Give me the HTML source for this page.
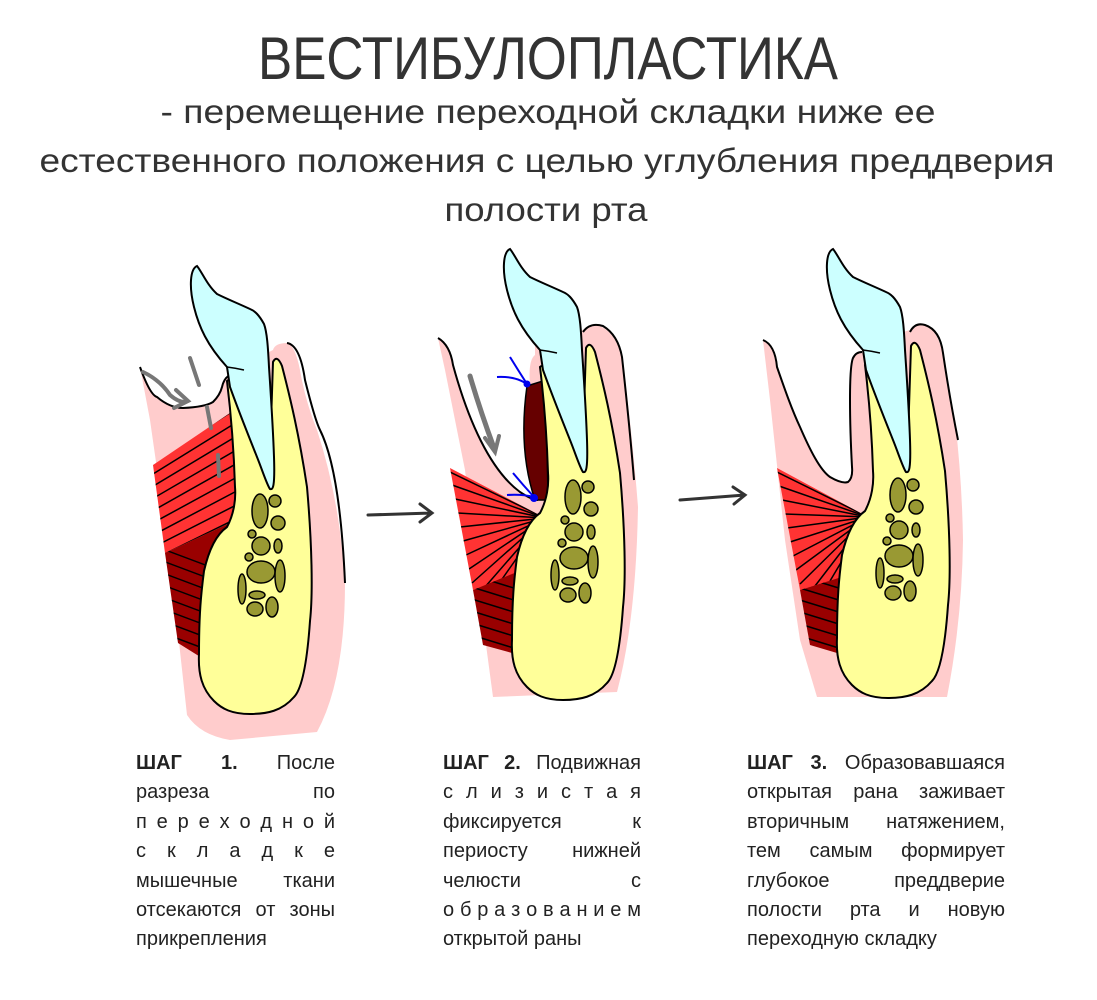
<!DOCTYPE html>
<html><head><meta charset="utf-8"><style>
html,body{margin:0;padding:0;background:#fff;}
body{width:1097px;height:1000px;position:relative;overflow:hidden;font-family:"Liberation Sans",sans-serif;}
svg{position:absolute;left:0;top:0;}
.col{position:absolute;top:749px;font-family:"Liberation Sans",sans-serif;font-size:20px;line-height:29.4px;color:#222;}
.col div{text-align:justify;text-align-last:justify;white-space:nowrap;}
.col div.n{text-align-last:left;}
b{font-weight:bold;}
</style></head><body>
<svg width="1097" height="1000" viewBox="0 0 1097 1000">
<defs>
<g id="bone">
<path d="M540,367 Q545,362 550,380 L582,470 L586,348 Q590,340 595,352 C603,383 612,420 620,473 C625,530 626,580 623,607 C620,650 615,675 607,683 C595,697 580,700 563,700 C545,700 535,695 527,687 C515,675 511,660 512,640 C512,600 514,580 517,557 C522,535 530,520 540,513 C547,500 549,485 548,473 C547,440 544,400 540,367 Z" fill="#ffff99" stroke="#000" stroke-width="2"/>
<g fill="#999933" stroke="#000" stroke-width="1.5">
<ellipse cx="573" cy="497" rx="8" ry="17"/><circle cx="588" cy="487" r="6"/><ellipse cx="591" cy="509" rx="7" ry="7"/>
<circle cx="565" cy="520" r="4"/><ellipse cx="574" cy="532" rx="9" ry="9"/><ellipse cx="591" cy="532" rx="4" ry="7"/>
<circle cx="562" cy="543" r="4"/><ellipse cx="574" cy="558" rx="14" ry="11"/><ellipse cx="593" cy="562" rx="5" ry="16"/>
<ellipse cx="555" cy="575" rx="4" ry="15"/><ellipse cx="570" cy="581" rx="8" ry="4"/><ellipse cx="568" cy="595" rx="8" ry="7"/><ellipse cx="585" cy="593" rx="6" ry="10"/>
</g>
</g>
<g id="tooth">
<path d="M510,249 C503,252 502,270 507,290 C512,310 520,328 540,350 L543,370 C552,395 562,420 570,440 C576,455 580,468 583,472 C586,473 588,470 587,440 C586,410 584,380 582,350 C581,330 580,315 577,307 C572,298 568,294 563,292 C550,286 540,282 530,277 C520,268 515,255 510,249 Z" fill="#ccffff" stroke="#000" stroke-width="2"/>
<path d="M540,350 Q548,351 557,353" fill="none" stroke="#000" stroke-width="1.5"/>
</g>
<clipPath id="r1"><path d="M153,465 L230,413 L238,437 L237,507 L230,523 L165,553 Z"/></clipPath>
<clipPath id="d1"><path d="M165,553 L230,523 L220,567 L202,658 L178,643 Z"/></clipPath>
<clipPath id="r2"><path d="M450,468 L545,518 L517,573 L473,590 Z"/></clipPath>
<clipPath id="d2"><path d="M473,590 L517,572 L512,653 L483,645 Z"/></clipPath>
<clipPath id="r3"><path d="M777,468 L868,517 L843,577 L800,590 Z"/></clipPath>
<clipPath id="d3"><path d="M800,590 L845,576 L837,653 L810,645 Z"/></clipPath>
</defs>

<text x="548" y="79" font-size="60" fill="#333" text-anchor="middle" textLength="580" lengthAdjust="spacingAndGlyphs">ВЕСТИБУЛОПЛАСТИКА</text>
<text x="548" y="123" font-size="33" fill="#333" text-anchor="middle" textLength="775" lengthAdjust="spacingAndGlyphs">- перемещение переходной складки ниже ее</text>
<text x="547" y="172" font-size="33" fill="#333" text-anchor="middle" textLength="1015" lengthAdjust="spacingAndGlyphs">естественного положения с целью углубления преддверия</text>
<text x="546" y="221" font-size="33" fill="#333" text-anchor="middle" textLength="203" lengthAdjust="spacingAndGlyphs">полости рта</text>

<path d="M140,367 L150,420 L170,560 L187,715 Q200,735 230,740 L317,732 Q345,680 345,583 Q340,500 317,430 Q305,400 300,370 Q295,345 287,343 Q275,343 273,350 L230,372 L140,340 Z" fill="#ffcccc"/>
<path d="M287,343 Q300,345 305,380 Q315,420 320,430 Q340,470 345,583" fill="none" stroke="#000" stroke-width="2"/>
<path d="M140,367 Q150,395 157,397 Q170,408 183,408 Q205,407 213,402 Q220,395 222,387 Q224,378 230,375 L235,330 L140,330 Z" fill="#fff"/>
<path d="M140,367 Q150,395 157,397 Q170,408 183,408 Q205,407 213,402 Q220,395 222,387 Q224,378 230,375" fill="none" stroke="#000" stroke-width="2"/>
<path d="M153,465 L230,413 L238,437 L237,507 L230,523 L165,553 Z" fill="#ff3333"/>
<g clip-path="url(#r1)" stroke="#000" stroke-width="1.5">
<line x1="140" y1="470" x2="250" y2="400"/><line x1="140" y1="482" x2="250" y2="414"/><line x1="140" y1="494" x2="250" y2="428"/><line x1="140" y1="506" x2="250" y2="442"/><line x1="140" y1="518" x2="250" y2="456"/><line x1="140" y1="530" x2="250" y2="470"/><line x1="140" y1="542" x2="250" y2="484"/><line x1="140" y1="554" x2="250" y2="498"/><line x1="140" y1="566" x2="250" y2="512"/><line x1="140" y1="578" x2="250" y2="526"/>
</g>
<path d="M165,553 L230,523 L220,567 L202,658 L178,643 Z" fill="#990000"/>
<g clip-path="url(#d1)" stroke="#000" stroke-width="1.5">
<line x1="160" y1="560" x2="240" y2="590"/><line x1="160" y1="572" x2="240" y2="602"/><line x1="160" y1="584" x2="240" y2="614"/><line x1="160" y1="596" x2="240" y2="626"/><line x1="160" y1="608" x2="240" y2="638"/><line x1="160" y1="620" x2="240" y2="650"/><line x1="160" y1="632" x2="240" y2="662"/><line x1="160" y1="548" x2="240" y2="578"/>
</g>
<use href="#bone" transform="translate(-313,14)"/>
<use href="#tooth" transform="translate(-313,17)"/>
<path d="M143,372 Q160,380 170,395 Q178,402 185,402" fill="none" stroke="#777" stroke-width="4" stroke-linecap="round"/>
<path d="M176,390 L188,401 L174,408" fill="none" stroke="#777" stroke-width="4" stroke-linecap="round"/>
<g stroke="#777" stroke-width="4" stroke-linecap="round">
<line x1="190" y1="358" x2="199" y2="385"/><line x1="207" y1="407" x2="211" y2="428"/><line x1="218" y1="455" x2="219" y2="476"/>
</g>

<g stroke="#333" stroke-width="3" fill="none" stroke-linecap="round">
<path d="M368,515 L432,513 M420,504 L432,513 L420,522"/>
<path d="M680,500 L745,495 M733,487 L745,495 L734,504"/>
</g>

<path d="M438,338 L445,370 L465,470 L480,600 L493,697 L617,692 Q636,620 638,507 Q632,430 622,357 Q615,330 597,325 Q585,326 583,330 L540,345 L438,320 Z" fill="#ffcccc"/>
<path d="M583,332 Q590,322 603,326 Q618,335 622,357 Q630,430 634,480" fill="none" stroke="#000" stroke-width="2"/>
<path d="M438,338 Q450,345 453,365 C468,420 490,470 520,492 Q532,500 538,500 L530,385 Q528,360 535,355 L535,320 L438,320 Z" fill="#fff"/>
<path d="M438,338 Q450,345 453,365 C468,420 490,470 520,492 Q532,500 538,500" fill="none" stroke="#000" stroke-width="2"/>
<path d="M527,386 L546,380 L548,500 L535,500 Q518,450 527,386 Z" fill="#660000" stroke="#000" stroke-width="1.5"/>
<path d="M450,468 L545,518 L517,573 L473,590 Z" fill="#ff3333"/>
<g clip-path="url(#r2)" stroke="#000" stroke-width="1.5">
<line x1="545" y1="518" x2="450" y2="472"/><line x1="545" y1="518" x2="452" y2="485"/><line x1="545" y1="518" x2="455" y2="499"/><line x1="545" y1="518" x2="457" y2="513"/><line x1="545" y1="518" x2="460" y2="527"/><line x1="545" y1="518" x2="463" y2="541"/><line x1="545" y1="518" x2="466" y2="555"/><line x1="545" y1="518" x2="469" y2="569"/><line x1="545" y1="518" x2="472" y2="583"/><line x1="545" y1="518" x2="485" y2="587"/><line x1="545" y1="518" x2="500" y2="582"/>
</g>
<path d="M473,590 L517,572 L512,653 L483,645 Z" fill="#990000"/>
<g clip-path="url(#d2)" stroke="#000" stroke-width="1.5">
<line x1="465" y1="585" x2="530" y2="605"/><line x1="465" y1="597" x2="530" y2="617"/><line x1="465" y1="609" x2="530" y2="629"/><line x1="465" y1="621" x2="530" y2="641"/><line x1="465" y1="633" x2="530" y2="653"/><line x1="465" y1="645" x2="530" y2="665"/><line x1="465" y1="573" x2="530" y2="593"/>
</g>
<use href="#bone"/>
<use href="#tooth"/>
<path d="M470,376 Q480,410 494,448" fill="none" stroke="#777" stroke-width="5" stroke-linecap="round"/>
<path d="M485,438 L495,452 L499,436" fill="none" stroke="#777" stroke-width="4" stroke-linecap="round"/>
<g stroke="#0000ee" stroke-width="2" fill="none">
<path d="M497,377 Q515,376 527,384 M510,357 Q518,370 527,384"/>
<path d="M507,495 Q522,494 534,497 M513,473 Q523,485 534,497"/>
<circle cx="534" cy="498" r="3" fill="#0000ee"/><circle cx="527" cy="384" r="2.5" fill="#0000ee"/>
</g>

<path d="M763,340 L770,400 L785,540 L800,640 L817,697 L947,697 Q962,620 963,540 Q962,480 955,420 Q945,370 943,353 Q935,325 923,325 Q912,325 910,330 L860,345 L763,320 Z" fill="#ffcccc"/>
<path d="M910,332 Q915,322 925,325 Q940,330 943,353 Q950,400 958,440" fill="none" stroke="#000" stroke-width="2"/>
<path d="M763,340 Q775,345 777,367 C785,390 792,410 800,427 C810,450 820,470 830,477 Q842,484 848,482 Q853,478 852,467 Q850,430 850,400 Q850,365 853,358 Q856,352 862,352 L862,320 L763,320 Z" fill="#fff"/>
<path d="M763,340 Q775,345 777,367 C785,390 792,410 800,427 C810,450 820,470 830,477 Q842,484 848,482 Q853,478 852,467 Q850,430 850,400 Q850,365 853,358 Q856,352 862,352" fill="none" stroke="#000" stroke-width="2"/>
<path d="M777,468 L868,517 L843,577 L800,590 Z" fill="#ff3333"/>
<g clip-path="url(#r3)" stroke="#000" stroke-width="1.5">
<line x1="868" y1="517" x2="777" y2="472"/><line x1="868" y1="517" x2="779" y2="486"/><line x1="868" y1="517" x2="782" y2="500"/><line x1="868" y1="517" x2="784" y2="514"/><line x1="868" y1="517" x2="787" y2="528"/><line x1="868" y1="517" x2="790" y2="542"/><line x1="868" y1="517" x2="793" y2="556"/><line x1="868" y1="517" x2="796" y2="570"/><line x1="868" y1="517" x2="800" y2="584"/><line x1="868" y1="517" x2="815" y2="586"/><line x1="868" y1="517" x2="830" y2="581"/>
</g>
<path d="M800,590 L845,576 L837,653 L810,645 Z" fill="#990000"/>
<g clip-path="url(#d3)" stroke="#000" stroke-width="1.5">
<line x1="790" y1="585" x2="855" y2="605"/><line x1="790" y1="597" x2="855" y2="617"/><line x1="790" y1="609" x2="855" y2="629"/><line x1="790" y1="621" x2="855" y2="641"/><line x1="790" y1="633" x2="855" y2="653"/><line x1="790" y1="645" x2="855" y2="665"/><line x1="790" y1="573" x2="855" y2="593"/>
</g>
<use href="#bone" transform="translate(325,-2)"/>
<use href="#tooth" transform="translate(323,0)"/>
</svg>

<div class="col" style="left:136px;width:199px;">
<div><b>ШАГ</b> <b>1.</b> После</div>
<div>разреза по</div>
<div>п е р е х о д н о й</div>
<div>с к л а д к е</div>
<div>мышечные ткани</div>
<div>отсекаются от зоны</div>
<div class="n">прикрепления</div>
</div>
<div class="col" style="left:443px;width:198px;">
<div><b>ШАГ 2.</b> Подвижная</div>
<div>с л и з и с т а я</div>
<div>фиксируется к</div>
<div>периосту нижней</div>
<div>челюсти с</div>
<div>о б р а з о в а н и е м</div>
<div class="n">открытой раны</div>
</div>
<div class="col" style="left:747px;width:258px;">
<div><b>ШАГ 3.</b> Образовавшаяся</div>
<div>открытая рана заживает</div>
<div>вторичным натяжением,</div>
<div>тем самым формирует</div>
<div>глубокое преддверие</div>
<div>полости рта и новую</div>
<div class="n">переходную складку</div>
</div>
</body></html>
